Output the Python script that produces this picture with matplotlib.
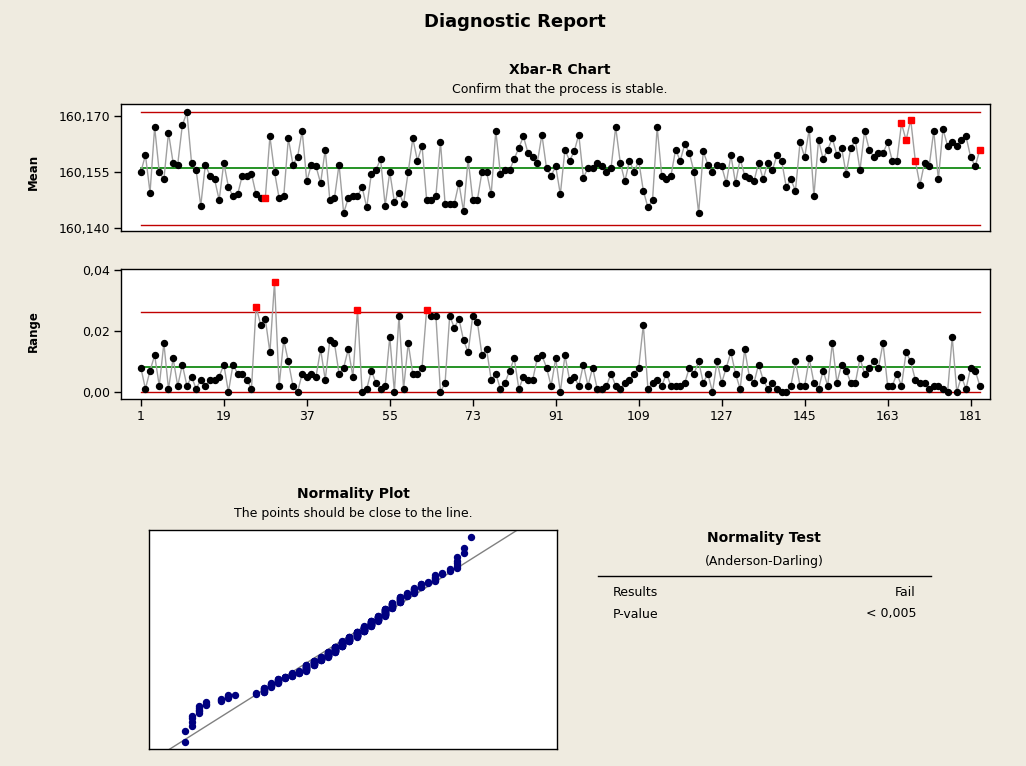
import numpy as np
import matplotlib.pyplot as plt
from matplotlib.ticker import FuncFormatter
from statistics import NormalDist

# subgroup means (n = 2)
xbar = [
    160.155, 160.1595, 160.1495, 160.167, 160.155, 160.153, 160.1655, 160.1575, 160.157, 160.1675,
    160.171, 160.1575, 160.1555, 160.146, 160.157, 160.154, 160.153, 160.1475, 160.1575, 160.151,
    160.1485, 160.149, 160.154, 160.154, 160.1545, 160.149, 160.148, 160.148, 160.1645, 160.155,
    160.148, 160.1485, 160.164, 160.157, 160.159, 160.166, 160.1525, 160.157, 160.1565, 160.152,
    160.161, 160.1475, 160.148, 160.157, 160.144, 160.148, 160.1485, 160.1485, 160.151, 160.1455,
    160.1545, 160.1555, 160.1585, 160.146, 160.155, 160.147, 160.1495, 160.1465, 160.155, 160.164,
    160.158, 160.162, 160.1475, 160.1475, 160.1485, 160.163, 160.1465, 160.1465, 160.1465, 160.152,
    160.1445, 160.1585, 160.1475, 160.1475, 160.155, 160.155, 160.149, 160.166, 160.1545, 160.1555,
    160.1555, 160.1585, 160.1615, 160.1645, 160.160, 160.159, 160.1575, 160.165, 160.156, 160.154,
    160.1565, 160.149, 160.161, 160.158, 160.1605, 160.165, 160.1535, 160.156, 160.156, 160.1575,
    160.1565, 160.155, 160.156, 160.167, 160.1575, 160.1525, 160.158, 160.155, 160.158, 160.150,
    160.1455, 160.1475, 160.167, 160.154, 160.153, 160.154, 160.161, 160.158, 160.1625, 160.160,
    160.155, 160.144, 160.1605, 160.157, 160.155, 160.157, 160.1565, 160.152, 160.1595, 160.152,
    160.1585, 160.154, 160.1535, 160.1525, 160.1575, 160.153, 160.1575, 160.1555, 160.1595, 160.158,
    160.151, 160.153, 160.150, 160.163, 160.159, 160.1665, 160.1485, 160.1635, 160.1585, 160.161,
    160.164, 160.1595, 160.1615, 160.1545, 160.1615, 160.1635, 160.1555, 160.166, 160.161, 160.159,
    160.160, 160.160, 160.163, 160.158, 160.158, 160.168, 160.1635, 160.169, 160.158, 160.1515,
    160.1575, 160.1565, 160.166, 160.153, 160.1665, 160.162, 160.163, 160.162, 160.1635, 160.1645,
    160.159, 160.1565, 160.161,
]

# subgroup ranges
rng = [
    0.008, 0.001, 0.007, 0.012, 0.002, 0.016, 0.001, 0.011, 0.002, 0.009,
    0.002, 0.005, 0.001, 0.004, 0.002, 0.004, 0.004, 0.005, 0.009, 0.000,
    0.009, 0.006, 0.006, 0.004, 0.001, 0.028, 0.022, 0.024, 0.013, 0.036,
    0.002, 0.017, 0.010, 0.002, 0.000, 0.006, 0.005, 0.006, 0.005, 0.014,
    0.004, 0.017, 0.016, 0.006, 0.008, 0.014, 0.005, 0.027, 0.000, 0.001,
    0.007, 0.003, 0.001, 0.002, 0.018, 0.000, 0.025, 0.001, 0.016, 0.006,
    0.006, 0.008, 0.027, 0.025, 0.025, 0.000, 0.003, 0.025, 0.021, 0.024,
    0.017, 0.013, 0.025, 0.023, 0.012, 0.014, 0.004, 0.006, 0.001, 0.003,
    0.007, 0.011, 0.001, 0.005, 0.004, 0.004, 0.011, 0.012, 0.008, 0.002,
    0.011, 0.000, 0.012, 0.004, 0.005, 0.002, 0.009, 0.002, 0.008, 0.001,
    0.001, 0.002, 0.006, 0.002, 0.001, 0.003, 0.004, 0.006, 0.008, 0.022,
    0.001, 0.003, 0.004, 0.002, 0.006, 0.002, 0.002, 0.002, 0.003, 0.008,
    0.006, 0.010, 0.003, 0.006, 0.000, 0.010, 0.003, 0.008, 0.013, 0.006,
    0.001, 0.014, 0.005, 0.003, 0.009, 0.004, 0.001, 0.003, 0.001, 0.000,
    0.000, 0.002, 0.010, 0.002, 0.002, 0.011, 0.003, 0.001, 0.007, 0.002,
    0.016, 0.003, 0.009, 0.007, 0.003, 0.003, 0.011, 0.006, 0.008, 0.010,
    0.008, 0.016, 0.002, 0.002, 0.006, 0.002, 0.013, 0.010, 0.004, 0.003,
    0.003, 0.001, 0.002, 0.002, 0.001, 0.000, 0.018, 0.000, 0.005, 0.001,
    0.008, 0.007, 0.002,
]

# flagged subgroups (1-based)
xbar_red = [28, 166, 167, 168, 169, 183]
rng_red = [26, 30, 48, 63]

# control limits
xbar_cl, xbar_ucl, xbar_lcl = 160.1560, 160.1711, 160.1409
rng_cl, rng_ucl, rng_lcl = 0.00805, 0.0263, 0.0

x_ticks = [1, 19, 37, 55, 73, 91, 109, 127, 145, 163, 181]
xbar_ticks = [160.140, 160.155, 160.170]
rng_ticks = [0.00, 0.02, 0.04]

bg = '#efebe0'
W, H = 1026, 766
plt.rcParams['font.family'] = 'DejaVu Sans'

fig = plt.figure(figsize=(W / 100, H / 100), dpi=100, facecolor=bg)


def box(l, t, r, b):
    return [l / W, 1 - b / H, (r - l) / W, (b - t) / H]


xbar = np.array(xbar)
rng = np.array(rng)
n = np.arange(1, len(xbar) + 1)


def control(ax, vals, red, cl, ucl, lcl):
    ax.plot(n, vals, color='#a0a0a0', lw=1, zorder=2)
    mask = np.isin(n, red)
    ax.plot(n[~mask], vals[~mask], 'o', color='black', ms=4.3, zorder=3)
    ax.plot(n[mask], vals[mask], 's', color='#ff0000', ms=4, zorder=3)
    ax.plot([n[0], n[-1]], [ucl, ucl], color='#c00000', lw=1, zorder=1)
    ax.plot([n[0], n[-1]], [lcl, lcl], color='#c00000', lw=1, zorder=1)
    ax.plot([n[0], n[-1]], [cl, cl], color='#008000', lw=1.2, zorder=1)
    ax.set_xlim(-3.3, 185.2)
    for s in ax.spines.values():
        s.set_color('black')
        s.set_linewidth(1)
    ax.tick_params(axis='both', direction='out', length=5, width=1,
                   labelsize=9, color='black', pad=3)


# Xbar chart
ax1 = fig.add_axes(box(121, 104, 990, 231))
control(ax1, xbar, xbar_red, xbar_cl, xbar_ucl, xbar_lcl)
ax1.set_ylim(160.1392, 160.1732)
ax1.set_yticks(xbar_ticks)
ax1.yaxis.set_major_formatter(FuncFormatter(lambda v, p: f"{v:.3f}".replace('.', ',')))
ax1.set_xticks([])

# R chart
ax2 = fig.add_axes(box(121, 269, 990, 399))
control(ax2, rng, rng_red, rng_cl, rng_ucl, rng_lcl)
ax2.set_ylim(-0.0023, 0.0403)
ax2.set_yticks(rng_ticks)
ax2.yaxis.set_major_formatter(FuncFormatter(lambda v, p: f"{v:.2f}".replace('.', ',')))
ax2.set_xticks(x_ticks)

fig.text(33 / W, 1 - 172 / H, "Mean", rotation=90, ha='center', va='center',
         fontsize=8.5, fontweight='bold')
fig.text(33 / W, 1 - 331 / H, "Range", rotation=90, ha='center', va='center',
         fontsize=8.5, fontweight='bold')

fig.text(515 / W, 1 - 22 / H, "Diagnostic Report", ha='center', va='center',
         fontsize=13, fontweight='bold')
fig.text(560 / W, 1 - 70 / H, "Xbar-R Chart", ha='center', va='center',
         fontsize=10, fontweight='bold')
fig.text(560 / W, 1 - 89 / H, "Confirm that the process is stable.", ha='center',
         va='center', fontsize=9)

# Normality plot of individual values
ind = np.round(np.sort(np.concatenate([xbar - rng / 2, xbar + rng / 2])), 4)
N = len(ind)
pp = (np.arange(1, N + 1) - 0.3) / (N + 0.4)
z = np.array([NormalDist().inv_cdf(p) for p in pp])
mu, sd = ind.mean(), ind.std(ddof=1)

ax3 = fig.add_axes(box(149, 530, 557, 749))
xl = (160.129, 160.186)
ax3.plot(xl, [(xl[0] - mu) / sd, (xl[1] - mu) / sd], color='#808080', lw=1, zorder=1)
ax3.plot(ind, z, 'o', color='#000080', ms=4.3, zorder=2)
ax3.set_xlim(*xl)
ax3.set_ylim(-3.1, 3.1)
ax3.set_xticks([])
ax3.set_yticks([])
for s in ax3.spines.values():
    s.set_color('black')
    s.set_linewidth(1)

fig.text(353 / W, 1 - 494 / H, "Normality Plot", ha='center', va='center',
         fontsize=10, fontweight='bold')
fig.text(353 / W, 1 - 514 / H, "The points should be close to the line.", ha='center',
         va='center', fontsize=9)

# Normality test table
fig.text(764 / W, 1 - 538 / H, "Normality Test", ha='center', va='center',
         fontsize=10, fontweight='bold')
fig.text(764 / W, 1 - 562 / H, "(Anderson-Darling)", ha='center', va='center', fontsize=9)
fig.add_artist(plt.Line2D([598 / W, 931 / W], [1 - 576 / H, 1 - 576 / H],
                          color='black', lw=1))
fig.text(613 / W, 1 - 593 / H, "Results", ha='left', va='center', fontsize=9)
fig.text(916 / W, 1 - 593 / H, "Fail", ha='right', va='center', fontsize=9)
fig.text(613 / W, 1 - 614 / H, "P-value", ha='left', va='center', fontsize=9)
fig.text(916 / W, 1 - 614 / H, "< 0,005", ha='right', va='center', fontsize=9)

fig.savefig("out.png", dpi=100, facecolor=bg)
